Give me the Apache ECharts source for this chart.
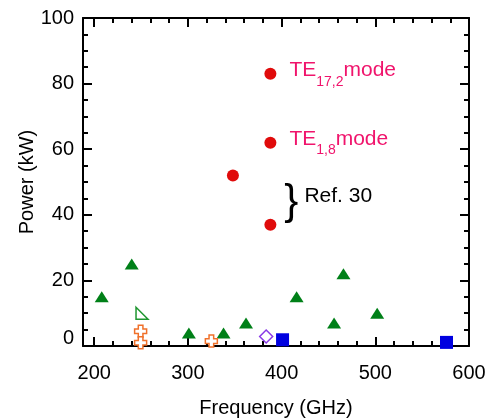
<!DOCTYPE html>
<html>
<head>
<meta charset="utf-8">
<script src="https://cdn.jsdelivr.net/npm/echarts@6/dist/echarts.min.js"></script>
<style>
  html, body { margin: 0; padding: 0; background: #fff; }
  #chart { width: 491px; height: 418px; }
</style>
</head>
<body>
<div id="chart"></div>
<script>
// data: [frequency GHz, power kW]
const teModes = [[388, 83], [388, 62]];
const teSubs = ['17,2', '1,8'];
const ref30 = [[348, 52], [388, 37]];
const triFilled = [[208, 15], [240, 25], [301, 4], [338, 4], [362, 7], [416, 15], [456, 7], [466, 22], [502, 10]];
const triOpen = [[251, 10]];
const crosses = [[249.5, 4.5], [249.5, 1.0], [325, 1.5]];
const diamonds = [[383.5, 2.9]];
const squares = [[401, 1.9], [576, 1.1]];

const xMajor = [200, 300, 400, 500, 600];
const xMinor = [220, 240, 260, 280, 320, 340, 360, 380, 420, 440, 460, 480, 520, 540, 560, 580];

const FONT = 'Liberation Sans, Arial, sans-serif';
const lineStyle = { color: '#000', width: 2 };

const chart = echarts.init(document.getElementById('chart'));

function xAx(pos, ticks, len, main) {
    return {
        type: 'value', position: pos, min: 188, max: 600,
        axisLine: { show: main, lineStyle: lineStyle },
        axisTick: { show: true, inside: true, length: len, customValues: ticks, lineStyle: lineStyle },
        axisLabel: main && pos === 'bottom'
            ? { show: true, customValues: xMajor, color: '#000', fontSize: 20, fontFamily: FONT, margin: 17 }
            : { show: false },
        splitLine: { show: false },
        name: main && pos === 'bottom' ? 'Frequency (GHz)' : '',
        nameLocation: 'middle', nameGap: 52,
        nameTextStyle: { color: '#000', fontSize: 20, fontFamily: FONT }
    };
}
function yAx(pos) {
    const left = pos === 'left';
    return {
        type: 'value', position: pos, min: 0, max: 100, interval: 20,
        axisLine: { show: true, lineStyle: lineStyle },
        axisTick: { show: true, inside: true, length: 9, lineStyle: lineStyle },
        minorTick: { show: true, splitNumber: 4, length: 5, lineStyle: lineStyle },
        axisLabel: {
            show: left, color: '#000', fontSize: 20, fontFamily: FONT, margin: 9,
            // the 0 label sits a little above the corner in the original
            formatter: v => (v === 0 ? '{z|0}' : String(v)),
            rich: { z: { fontSize: 20, fontFamily: FONT, color: '#000', padding: [0, 0, 16, 0] } }
        },
        splitLine: { show: false },
        name: left ? 'Power (kW)' : '',
        nameLocation: 'middle', nameGap: 46, nameMoveOverlap: false,
        nameTextStyle: { color: '#000', fontSize: 20, fontFamily: FONT }
    };
}

const crossPath = 'path://M4,0 H9 V4 H13 V9 H9 V13 H4 V9 H0 V4 H4 Z';
const rightTri = 'path://M0,0 L0,12 L12,12 Z';

chart.setOption({
    animation: false,
    grid: { left: 83, right: 22, top: 18, bottom: 72, outerBoundsMode: 'none', containLabel: false },
    xAxis: [xAx('bottom', xMajor, 9, true), xAx('bottom', xMinor, 5, false),
            xAx('top', xMajor, 9, true), xAx('top', xMinor, 5, false)],
    yAxis: [yAx('left'), yAx('right')],
    series: [
        {
            type: 'scatter', data: teModes, symbol: 'circle', symbolSize: 12,
            itemStyle: { color: '#e00b0b', opacity: 1 },
            label: {
                show: true, position: 'right', distance: 13, offset: [0, -2],
                formatter: p => '{m|TE}{s|' + teSubs[p.dataIndex] + '}{m|mode}',
                rich: {
                    m: { fontSize: 21, lineHeight: 24, color: '#f0146c', fontFamily: FONT, verticalAlign: 'top' },
                    s: { fontSize: 14, lineHeight: 16, color: '#f0146c', fontFamily: FONT, verticalAlign: 'top', padding: [15, 0, 0, 0] }
                }
            }
        },
        { type: 'scatter', data: ref30, symbol: 'circle', symbolSize: 12, itemStyle: { color: '#e00b0b', opacity: 1 } },
        { type: 'scatter', data: triFilled, symbol: 'triangle', symbolSize: [14, 11], itemStyle: { color: '#008018', opacity: 1 } },
        { type: 'scatter', data: triOpen, symbol: rightTri, symbolSize: 12,
          itemStyle: { color: '#fff', borderColor: '#1f9630', borderWidth: 1.5, opacity: 1 } },
        { type: 'scatter', data: crosses, symbol: crossPath, symbolSize: 12,
          itemStyle: { color: '#fff', borderColor: '#f0702a', borderWidth: 1.5, opacity: 1 } },
        { type: 'scatter', data: diamonds, symbol: 'diamond', symbolSize: 13,
          itemStyle: { color: '#fff', borderColor: '#8a3ae6', borderWidth: 1.5, opacity: 1 } },
        { type: 'scatter', data: squares, symbol: 'rect', symbolSize: 13, itemStyle: { color: '#0000e0', opacity: 1 } }
    ]
});

// brace and reference note next to the Ref. 30 points
const p = chart.convertToPixel({ xAxisIndex: 0, yAxisIndex: 0 }, ref30[1]);
chart.setOption({
    graphic: [
        { type: 'text', x: p[0] + 21, y: p[1] - 22,
          style: { text: '}', font: '42px ' + FONT, fill: '#000', align: 'center', verticalAlign: 'middle' } },
        { type: 'text', x: p[0] + 34, y: p[1] - 28,
          style: { text: 'Ref. 30', font: '21px ' + FONT, fill: '#000', align: 'left', verticalAlign: 'middle' } }
    ]
});
</script>
</body>
</html>
